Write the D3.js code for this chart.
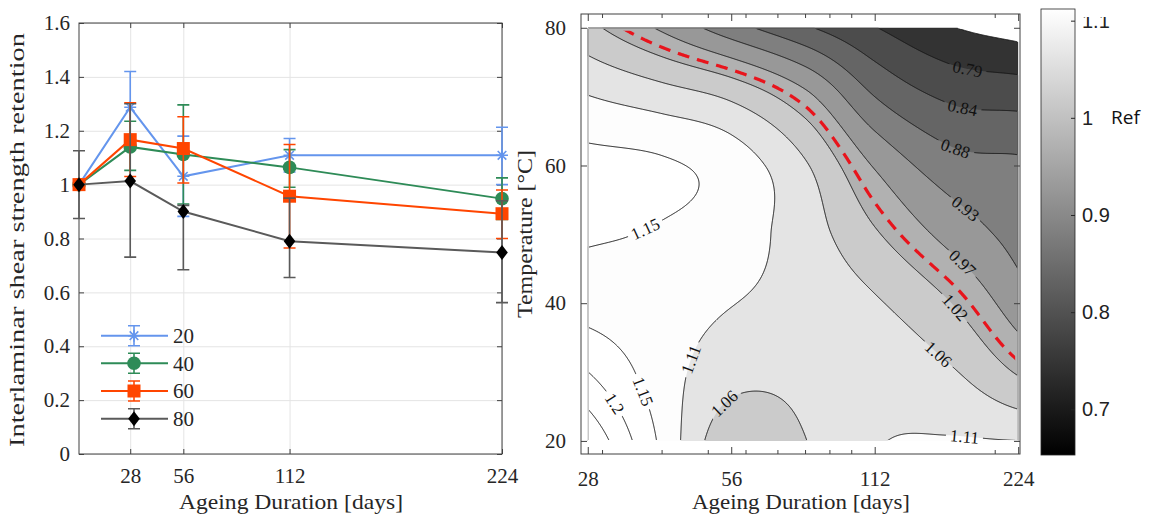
<!DOCTYPE html>
<html>
<head>
<meta charset="utf-8">
<script src="https://cdn.jsdelivr.net/npm/d3@7"></script>
<style>
  body { margin: 0; background: #fff; }
  svg { display: block; }
</style>
</head>
<body>
<div id="chart"></div>
<script>
// ---------- data: left panel (retention vs ageing duration) ----------
var days = [1, 28, 56, 112, 224];
var dayTicks = [28, 56, 112, 224];
var retentionTicks = [0, 0.2, 0.4, 0.6, 0.8, 1, 1.2, 1.4, 1.6];
var seriesNames = ["20", "40", "60", "80"];

var ret20 = [1.0, 1.287, 1.031, 1.109, 1.109];
var ret40 = [1.0, 1.14, 1.112, 1.064, 0.948];
var ret60 = [1.0, 1.167, 1.134, 0.957, 0.892];
var ret80 = [1.0, 1.013, 0.90, 0.79, 0.748];

var hi20 = [1.0, 1.42, 1.18, 1.171, 1.213];
var lo20 = [1.0, 1.154, 0.882, 1.047, 1.0];
var hi40 = [1.0, 1.235, 1.296, 1.13, 1.025];
var lo40 = [1.0, 1.053, 0.928, 0.99, 0.871];
var hi60 = [1.0, 1.304, 1.252, 1.149, 0.98];
var lo60 = [1.0, 1.03, 1.006, 0.765, 0.80];
var hi80 = [1.126, 1.30, 0.923, 0.95, 0.94];
var lo80 = [0.874, 0.731, 0.684, 0.655, 0.562];

// ---------- data: right panel (contour of retention) ----------
var gridDays = [28, 40, 56, 80, 112, 160, 224];
var gridTemps = [80, 70, 60, 50, 40, 30, 20];
var gridRetention = [
  [1.03, 0.965, 0.90, 0.842, 0.792, 0.748, 0.725],
  [1.11, 1.085, 1.055, 0.985, 0.881, 0.828, 0.818],
  [1.167, 1.16, 1.134, 1.068, 0.968, 0.901, 0.889],
  [1.158, 1.15, 1.13, 1.085, 1.023, 0.958, 0.91],
  [1.14, 1.13, 1.11, 1.09, 1.068, 1.02, 0.948],
  [1.20, 1.13, 1.08, 1.075, 1.09, 1.069, 1.013],
  [1.287, 1.145, 1.031, 1.062, 1.105, 1.112, 1.109]
];
var levels = [0.7445, 0.79, 0.8355, 0.881, 0.9265, 0.972, 1.0175, 1.063, 1.1085, 1.154, 1.1995, 1.245];
var refLevel = 1.0;
var tempTicks = [20, 40, 60, 80];
var minorDays = [30, 40, 50, 60, 70, 80, 90, 100, 200];
var colorbarTicks = [0.7, 0.8, 0.9, 1, 1.1];
var colorRange = [0.653, 1.112];

// where the inline contour labels sit (duration, temperature)
var labelSpots = [
  { text: "0.79", level: 0.79, days: 176, temp: 74.6 },
  { text: "0.84", level: 0.8355, days: 171, temp: 68.4 },
  { text: "0.88", level: 0.881, days: 166, temp: 62.7 },
  { text: "0.93", level: 0.9265, days: 175, temp: 54 },
  { text: "0.97", level: 0.972, days: 175, temp: 46.6 },
  { text: "1.02", level: 1.0175, days: 163, temp: 39 },
  { text: "1.06", level: 1.063, days: 153, temp: 32.8 },
  { text: "1.11", level: 1.1085, days: 173, temp: 21.2 },
  { text: "1.06", level: 1.063, days: 55, temp: 24.9 },
  { text: "1.11", level: 1.1085, days: 44.4, temp: 32.2 },
  { text: "1.15", level: 1.154, days: 37.3, temp: 27.4 },
  { text: "1.2", level: 1.1995, days: 31.9, temp: 25.5 },
  { text: "1.15", level: 1.154, days: 37.1, temp: 50.6 }
];

var serif = "'Liberation Serif', 'DejaVu Serif', serif";
var ink = "#262626";

var svg = d3.select("#chart")
  .append("svg")
  .attr("width", 1155)
  .attr("height", 517);
var defs = svg.append("defs");

// =====================================================================
// Left panel
// =====================================================================
var xL = d3.scaleLinear().domain([1, 224]).range([79, 502]);
var yL = d3.scaleLinear().domain([0, 1.6]).range([454, 23]);

var left = svg.append("g");

// grid
left.append("g")
  .attr("transform", "translate(0,454)")
  .call(d3.axisBottom(xL).tickValues(dayTicks).tickSize(-(454 - 23)).tickFormat(""))
  .call(g => g.select(".domain").remove())
  .selectAll("line").attr("stroke", "#e4e4e4");
left.append("g")
  .attr("transform", "translate(79,0)")
  .call(d3.axisLeft(yL).tickValues(retentionTicks).tickSize(-(502 - 79)).tickFormat(""))
  .call(g => g.select(".domain").remove())
  .selectAll("line").attr("stroke", "#e4e4e4");

function styleAxis(g) {
  g.select(".domain").remove();
  g.selectAll("line").attr("stroke", "#404040");
  g.selectAll("text").attr("fill", ink).attr("font-family", serif).attr("font-size", 21);
}

left.append("g").attr("transform", "translate(0,454)")
  .call(d3.axisBottom(xL).tickValues(dayTicks).tickSize(-5).tickPadding(14))
  .call(styleAxis);
left.append("g").attr("transform", "translate(0,23)")
  .call(d3.axisTop(xL).tickValues(dayTicks).tickSize(-5).tickFormat(""))
  .call(styleAxis);
left.append("g").attr("transform", "translate(79,0)")
  .call(d3.axisLeft(yL).tickValues(retentionTicks).tickSize(-5).tickPadding(9).tickFormat(d3.format("~g")))
  .call(styleAxis);
left.append("g").attr("transform", "translate(502,0)")
  .call(d3.axisRight(yL).tickValues(retentionTicks).tickSize(-5).tickFormat(""))
  .call(styleAxis);

left.append("rect")
  .attr("x", 79).attr("y", 23)
  .attr("width", 502 - 79).attr("height", 454 - 23)
  .attr("fill", "none")
  .attr("stroke", "#404040");

// series
var series = [
  { name: seriesNames[0], vals: ret20, hi: hi20, lo: lo20, color: "#6495ED", marker: "star" },
  { name: seriesNames[1], vals: ret40, hi: hi40, lo: lo40, color: "#2E8B57", marker: "circle" },
  { name: seriesNames[2], vals: ret60, hi: hi60, lo: lo60, color: "#FF4500", marker: "square" },
  { name: seriesNames[3], vals: ret80, hi: hi80, lo: lo80, color: "#5a5a5a", marker: "diamond" }
];

function drawMarker(g, type, color) {
  if (type === "star") {
    g.append("path")
      .attr("d", "M-6,0H6M0,-6V6M-4.3,-4.3L4.3,4.3M-4.3,4.3L4.3,-4.3")
      .attr("stroke", color).attr("stroke-width", 1.6).attr("fill", "none");
  } else if (type === "circle") {
    g.append("circle").attr("r", 6.8).attr("fill", color);
  } else if (type === "square") {
    g.append("rect").attr("x", -6.5).attr("y", -6.5).attr("width", 13).attr("height", 13).attr("fill", color);
  } else {
    g.append("path").attr("d", "M0,-7.5L5.8,0L0,7.5L-5.8,0Z").attr("fill", "#000");
  }
}

function drawErrorBar(g, x, yTop, yBot, color) {
  g.append("path")
    .attr("d", `M${x},${yTop}V${yBot}M${x - 6},${yTop}H${x + 6}M${x - 6},${yBot}H${x + 6}`)
    .attr("stroke", color).attr("stroke-width", 1.6).attr("fill", "none");
}

var lineGen = d3.line().x((d, i) => xL(days[i])).y(d => yL(d));

series.forEach(function (s) {
  var g = left.append("g");
  s.vals.forEach(function (v, i) {
    if (s.hi[i] !== s.lo[i]) drawErrorBar(g, xL(days[i]), yL(s.hi[i]), yL(s.lo[i]), s.color);
  });
  g.append("path")
    .attr("d", lineGen(s.vals))
    .attr("fill", "none")
    .attr("stroke", s.color)
    .attr("stroke-width", 2);
  s.vals.forEach(function (v, i) {
    var m = g.append("g").attr("transform", `translate(${xL(days[i])},${yL(v)})`);
    drawMarker(m, s.marker, s.color);
  });
});

// legend
var legendY = [335.7, 363.3, 391, 418.7];
series.forEach(function (s, i) {
  var g = left.append("g").attr("transform", `translate(0,${legendY[i]})`);
  g.append("line").attr("x1", 101).attr("x2", 168)
    .attr("stroke", s.color).attr("stroke-width", 2);
  drawErrorBar(g, 134, -10, 10, s.color);
  var m = g.append("g").attr("transform", "translate(134,0)");
  drawMarker(m, s.marker, s.color);
  g.append("text")
    .attr("x", 173).attr("y", 0).attr("dy", "0.35em")
    .attr("font-family", serif).attr("font-size", 21).attr("fill", ink)
    .text(s.name);
});

// axis titles
left.append("text")
  .attr("transform", "translate(24,240) rotate(-90)")
  .attr("text-anchor", "middle")
  .attr("font-family", serif).attr("font-size", 21).attr("fill", ink)
  .attr("textLength", 414).attr("lengthAdjust", "spacingAndGlyphs")
  .text("Interlaminar shear strength retention");
left.append("text")
  .attr("x", 291).attr("y", 509)
  .attr("text-anchor", "middle")
  .attr("font-family", serif).attr("font-size", 21).attr("fill", ink)
  .attr("textLength", 224).attr("lengthAdjust", "spacingAndGlyphs")
  .text("Ageing Duration [days]");

// =====================================================================
// Right panel: contour map
// =====================================================================
var xR = d3.scaleLog().base(2).domain([27.1, 226]).range([581, 1020]);
var yR = d3.scaleLinear().domain([18.1, 82]).range([454, 14]);
var gray = d3.scaleLinear().domain(colorRange).range(["#000000", "#ffffff"]).clamp(true);

var x0 = xR(28), x1 = xR(224), y0 = yR(80), y1 = yR(20);

// cubic Hermite with finite-difference slopes (xs ascending)
function hermite(xs, ys, x) {
  var n = xs.length, k = 0;
  while (k < n - 2 && x > xs[k + 1]) k++;
  var h = xs[k + 1] - xs[k];
  var s = Math.max(0, Math.min(1, (x - xs[k]) / h));
  function slope(i) {
    if (i === 0) return (ys[1] - ys[0]) / (xs[1] - xs[0]);
    if (i === n - 1) return (ys[n - 1] - ys[n - 2]) / (xs[n - 1] - xs[n - 2]);
    return (ys[i + 1] - ys[i - 1]) / (xs[i + 1] - xs[i - 1]);
  }
  var m0 = slope(k) * h, m1 = slope(k + 1) * h;
  var s2 = s * s, s3 = s2 * s;
  return (2 * s3 - 3 * s2 + 1) * ys[k] + (s3 - 2 * s2 + s) * m0 +
    (-2 * s3 + 3 * s2) * ys[k + 1] + (s3 - s2) * m1;
}

var nx = Math.round(x1 - x0), ny = Math.round(y1 - y0);
var values = new Float64Array(nx * ny);
var logDays = gridDays.map(Math.log2);
var tempsAsc = gridTemps.slice().reverse();
for (var i = 0; i < nx; i++) {
  var u = Math.log2(xR.invert(x0 + (i + 0.5) * (x1 - x0) / nx));
  var col = gridRetention.map(row => hermite(logDays, row, u)).reverse();
  for (var j = 0; j < ny; j++) {
    var t = yR.invert(y0 + (j + 0.5) * (y1 - y0) / ny);
    values[j * nx + i] = hermite(tempsAsc, col, t);
  }
}

function toPx(p) {
  return [x0 + p[0] * (x1 - x0) / nx, y0 + p[1] * (y1 - y0) / ny];
}
var proj = d3.geoTransform({
  point: function (gx, gy) {
    var p = toPx([gx, gy]);
    this.stream.point(p[0], p[1]);
  }
});
var cpath = d3.geoPath(proj);

var contours = d3.contours().size([nx, ny]).thresholds(levels)(values);
var refContour = d3.contours().size([nx, ny]).thresholds([refLevel])(values)[0];

// clips hide the polygon edges that run along the data border
defs.append("clipPath").attr("id", "innerClip")
  .append("rect")
  .attr("x", x0 + 1).attr("y", y0 + 1)
  .attr("width", x1 - x0 - 2).attr("height", y1 - y0 - 2);
defs.append("clipPath").attr("id", "refClip")
  .append("rect")
  .attr("x", x0 + 3).attr("y", y0 + 3)
  .attr("width", x1 - x0 - 6).attr("height", y1 - y0 - 6);

var right = svg.append("g");

// filled bands
right.append("g")
  .selectAll("path")
  .data(contours)
  .join("path")
  .attr("d", cpath)
  .attr("fill", d => gray(d.value))
  .attr("stroke", "none");

// contour label positions: snap each spot to its contour line
var mask = defs.append("mask").attr("id", "labelMask")
  .attr("maskUnits", "userSpaceOnUse")
  .attr("x", 0).attr("y", 0).attr("width", 1155).attr("height", 517);
mask.append("rect").attr("width", 1155).attr("height", 517).attr("fill", "#fff");

var placed = labelSpots.map(function (spot) {
  var c = contours.find(cc => Math.abs(cc.value - spot.level) < 1e-6);
  var tx = xR(spot.days), ty = yR(spot.temp);
  var best = null;
  c.coordinates.forEach(function (poly) {
    poly.forEach(function (ring) {
      var pts = ring.map(toPx);
      pts.forEach(function (p, k) {
        if (p[0] < x0 + 2 || p[0] > x1 - 2 || p[1] < y0 + 2 || p[1] > y1 - 2) return;
        var dd = (p[0] - tx) * (p[0] - tx) + (p[1] - ty) * (p[1] - ty);
        if (!best || dd < best.dd) best = { dd: dd, pts: pts, k: k };
      });
    });
  });
  var n = best.pts.length;
  var a = best.pts[(best.k - 4 + n) % n], b = best.pts[(best.k + 4) % n];
  var ang = Math.atan2(b[1] - a[1], b[0] - a[0]) * 180 / Math.PI;
  if (ang > 90) ang -= 180;
  if (ang <= -90) ang += 180;
  return { text: spot.text, x: best.pts[best.k][0], y: best.pts[best.k][1], angle: ang };
});

// contour lines (gaps under labels)
right.append("g")
  .attr("clip-path", "url(#innerClip)")
  .attr("mask", "url(#labelMask)")
  .selectAll("path")
  .data(contours)
  .join("path")
  .attr("d", cpath)
  .attr("fill", "none")
  .attr("stroke", "#161616")
  .attr("stroke-width", 1);

// reference line at 1.0
right.append("g")
  .attr("clip-path", "url(#refClip)")
  .append("path")
  .attr("d", cpath(refContour))
  .attr("fill", "none")
  .attr("stroke", "#e8141c")
  .attr("stroke-width", 3.2)
  .attr("stroke-dasharray", "12,8");

// labels
var labG = right.append("g");
placed.forEach(function (p) {
  var txt = labG.append("text")
    .attr("transform", `translate(${p.x},${p.y}) rotate(${p.angle})`)
    .attr("text-anchor", "middle")
    .attr("dy", "0.35em")
    .attr("font-family", serif).attr("font-size", 17).attr("fill", "#111")
    .text(p.text);
  var w = txt.node().getComputedTextLength() + 8;
  mask.append("rect")
    .attr("transform", `translate(${p.x},${p.y}) rotate(${p.angle})`)
    .attr("x", -w / 2).attr("y", -7)
    .attr("width", w).attr("height", 14)
    .attr("fill", "#000");
});

// axes
right.append("g").attr("transform", "translate(0,454)")
  .call(d3.axisBottom(xR).tickValues(dayTicks).tickSize(-7).tickPadding(17).tickFormat(d3.format("d")))
  .call(styleAxis);
right.append("g").attr("transform", "translate(0,454)")
  .call(d3.axisBottom(xR).tickValues(minorDays).tickSize(-4).tickFormat(""))
  .call(styleAxis);
right.append("g").attr("transform", "translate(0,14)")
  .call(d3.axisTop(xR).tickValues(dayTicks).tickSize(-7).tickFormat(""))
  .call(styleAxis);
right.append("g").attr("transform", "translate(0,14)")
  .call(d3.axisTop(xR).tickValues(minorDays).tickSize(-4).tickFormat(""))
  .call(styleAxis);
right.append("g").attr("transform", "translate(581,0)")
  .call(d3.axisLeft(yR).tickValues(tempTicks).tickSize(-6).tickPadding(15))
  .call(styleAxis);
right.append("g").attr("transform", "translate(1020,0)")
  .call(d3.axisRight(yR).tickValues(tempTicks).tickSize(-6).tickFormat(""))
  .call(styleAxis);
right.append("rect")
  .attr("x", 581).attr("y", 14)
  .attr("width", 1020 - 581).attr("height", 454 - 14)
  .attr("fill", "none").attr("stroke", "#404040");

right.append("text")
  .attr("transform", "translate(532,234) rotate(-90)")
  .attr("text-anchor", "middle")
  .attr("font-family", serif).attr("font-size", 21).attr("fill", ink)
  .attr("textLength", 168).attr("lengthAdjust", "spacingAndGlyphs")
  .text("Temperature [°C]");
right.append("text")
  .attr("x", 801).attr("y", 509)
  .attr("text-anchor", "middle")
  .attr("font-family", serif).attr("font-size", 21).attr("fill", ink)
  .attr("textLength", 218).attr("lengthAdjust", "spacingAndGlyphs")
  .text("Ageing Duration [days]");

// =====================================================================
// Colorbar
// =====================================================================
var cScale = d3.scaleLinear().domain(colorRange).range([455, 9]);
var grad = defs.append("linearGradient").attr("id", "cbGrad")
  .attr("x1", 0).attr("y1", 0).attr("x2", 0).attr("y2", 1);
grad.append("stop").attr("offset", 0).attr("stop-color", gray(colorRange[1]));
grad.append("stop").attr("offset", 1).attr("stop-color", gray(colorRange[0]));

svg.append("rect")
  .attr("x", 1041).attr("y", cScale(colorRange[1]))
  .attr("width", 34).attr("height", cScale(colorRange[0]) - cScale(colorRange[1]))
  .attr("fill", "url(#cbGrad)")
  .attr("stroke", "#262626").attr("stroke-width", 0.8);

// the top label is cut off in the original figure
defs.append("clipPath").attr("id", "cbClip")
  .append("rect").attr("x", 1030).attr("y", 17).attr("width", 125).attr("height", 500);

svg.append("g")
  .attr("clip-path", "url(#cbClip)")
  .append("g")
  .attr("transform", "translate(1075,0)")
  .call(d3.axisRight(cScale).tickValues(colorbarTicks).tickSize(-4).tickPadding(7).tickFormat(d3.format("~g")))
  .call(function (g) {
    g.select(".domain").remove();
    g.selectAll("line").attr("stroke", "#262626");
    g.selectAll("text").attr("fill", "#222")
      .attr("font-family", "'Liberation Sans', Arial, sans-serif").attr("font-size", 20);
  });

svg.append("text")
  .attr("x", 1111).attr("y", cScale(1)).attr("dy", "0.35em")
  .attr("font-family", "'Open Sans', 'Noto Sans', sans-serif").attr("font-size", 19)
  .attr("fill", "#111")
  .text("Ref");
</script>
</body>
</html>
